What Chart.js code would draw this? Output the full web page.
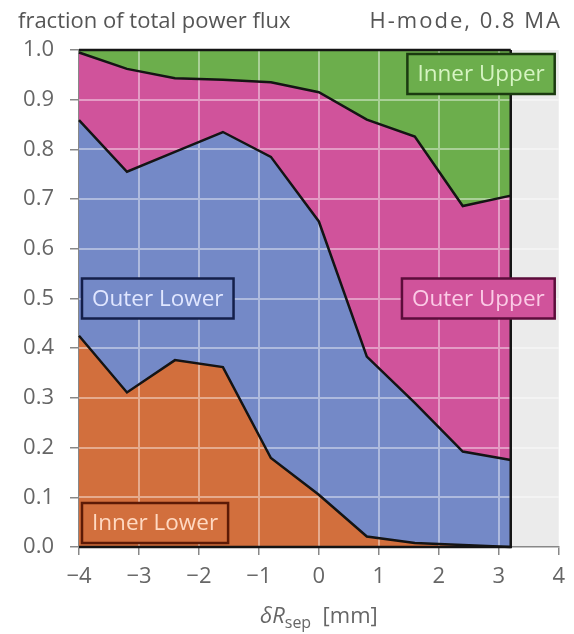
<!DOCTYPE html>
<html>
<head>
<meta charset="utf-8">
<script src="https://cdn.jsdelivr.net/npm/chart.js@4"></script>
<style>
  html, body { margin: 0; padding: 0; background: #fff; }
  #wrap { width: 574px; height: 634px; }
</style>
</head>
<body>
<div id="wrap"><canvas id="chart"></canvas></div>
<script>
// separatrix shift, mm
const shifts = [-4, -3.2, -2.4, -1.6, -0.8, 0, 0.8, 1.6, 2.4, 3.2];

// fraction of the total power flux landing on each target (stacked bottom to top)
const innerLower = [0.425, 0.311, 0.376, 0.362, 0.179, 0.105, 0.021, 0.008, 0.004, 0.000];
const outerLower = [0.434, 0.444, 0.419, 0.473, 0.606, 0.550, 0.362, 0.282, 0.188, 0.175];
const outerUpper = [0.136, 0.207, 0.148, 0.105, 0.150, 0.260, 0.477, 0.536, 0.494, 0.532];
const innerUpper = [0.005, 0.038, 0.057, 0.060, 0.065, 0.085, 0.140, 0.174, 0.314, 0.293];

const xTicks = [-4, -3, -2, -1, 0, 1, 2, 3, 4];
const yTicks = [0, 0.1, 0.2, 0.3, 0.4, 0.5, 0.6, 0.7, 0.8, 0.9, 1.0];

const FONT = "'Open Sans', 'DejaVu Sans', sans-serif";

const series = [
  {name: "Inner Lower", values: innerLower, fill: "#d26f3d", edge: "#5c1a06", ink: "#ffd9c2"},
  {name: "Outer Lower", values: outerLower, fill: "#7489c7", edge: "#141f4a", ink: "#e0e6ff"},
  {name: "Outer Upper", values: outerUpper, fill: "#d0539b", edge: "#5c0d3b", ink: "#fbcbe6"},
  {name: "Inner Upper", values: innerUpper, fill: "#6cae4c", edge: "#1b3a10", ink: "#d6f4c2"}
];

const datasets = series.map((s, i) => ({
  label: s.name,
  data: shifts.map((x, j) => ({x: x, y: s.values[j]})),
  fill: i === 0 ? "origin" : "-1",
  backgroundColor: s.fill,
  borderColor: "#141414",
  borderWidth: 2.5,
  pointRadius: 0,
  tension: 0,
  clip: 4
}));

// light gray panel behind everything
const panel = {
  id: "panel",
  beforeDraw(chart) {
    const {ctx, chartArea: a} = chart;
    ctx.save();
    ctx.fillStyle = "#fff";
    ctx.fillRect(0, 0, chart.width, chart.height);
    ctx.fillStyle = "#ebebeb";
    ctx.fillRect(a.left, a.top, a.right - a.left, a.bottom - a.top);
    ctx.restore();
  }
};

// white grid over the fills but under the boundary lines
const overGrid = {
  id: "overGrid",
  beforeDatasetsDraw(chart) {
    const {ctx, chartArea: a, scales} = chart;
    ctx.save();
    ctx.strokeStyle = "rgba(255,255,255,0.42)";
    ctx.lineWidth = 2;
    ctx.beginPath();
    xTicks.slice(1, -1).forEach(v => {
      const px = Math.round(scales.x.getPixelForValue(v));
      ctx.moveTo(px, a.top); ctx.lineTo(px, a.bottom);
    });
    yTicks.slice(1, -1).forEach(v => {
      const py = Math.round(scales.y.getPixelForValue(v));
      ctx.moveTo(a.left, py); ctx.lineTo(a.right, py);
    });
    ctx.stroke();
    ctx.restore();
  }
};

function drawTag(ctx, s, x, y, align) {
  ctx.font = "22.5px " + FONT;
  const w = ctx.measureText(s.name).width + 20;
  const h = 40;
  const left = align === "right" ? x - w : x;
  ctx.fillStyle = s.fill;
  ctx.fillRect(left, y - h / 2, w, h);
  ctx.strokeStyle = s.edge;
  ctx.lineWidth = 2.5;
  ctx.strokeRect(left, y - h / 2, w, h);
  ctx.fillStyle = s.ink;
  ctx.textAlign = "center";
  ctx.textBaseline = "middle";
  ctx.fillText(s.name, left + w / 2, y + 1);
}

const annotations = {
  id: "annotations",
  afterDraw(chart) {
    const {ctx, chartArea: a, scales} = chart;
    const x0 = scales.x.getPixelForValue(shifts[0]);
    const xEnd = scales.x.getPixelForValue(shifts[shifts.length - 1]);
    const y0 = scales.y.getPixelForValue(0);
    const y1 = scales.y.getPixelForValue(1);
    ctx.save();

    // outline closing the stack at the bottom and at the last shift
    ctx.strokeStyle = "#141414";
    ctx.lineWidth = 2.5;
    ctx.beginPath();
    ctx.moveTo(x0, y0);
    ctx.lineTo(xEnd, y0);
    ctx.lineTo(xEnd, y1);
    ctx.stroke();

    const mid = scales.y.getPixelForValue(0.5);
    drawTag(ctx, series[3], a.right - 4, a.top + 24, "right");
    drawTag(ctx, series[2], a.right - 4, mid, "right");
    drawTag(ctx, series[1], a.left + 3, mid, "left");
    drawTag(ctx, series[0], a.left + 3, a.bottom - 24, "left");

    // headings
    ctx.fillStyle = "#555";
    ctx.textBaseline = "alphabetic";
    ctx.font = "22px " + FONT;
    ctx.textAlign = "left";
    ctx.fillText("fraction of total power flux", 18, 28);
    ctx.textAlign = "right";
    ctx.letterSpacing = "2px";
    ctx.fillText("H-mode, 0.8 MA", 562, 28);
    ctx.letterSpacing = "0px";

    // axis title: δR_sep [mm]
    const parts = [
      {t: "\u03b4", f: "italic 22px " + FONT, dy: 0},
      {t: "R", f: "italic 22px " + FONT, dy: 0},
      {t: "sep", f: "16px " + FONT, dy: 5},
      {t: "  [mm]", f: "22px " + FONT, dy: 0}
    ];
    let total = 0;
    parts.forEach(p => { ctx.font = p.f; p.w = ctx.measureText(p.t).width; total += p.w; });
    let cx = scales.x.getPixelForValue(0) - total / 2;
    ctx.textAlign = "left";
    ctx.fillStyle = "#666";
    parts.forEach(p => {
      ctx.font = p.f;
      ctx.fillText(p.t, cx, 623 + p.dy);
      cx += p.w;
    });
    ctx.restore();
  }
};

new Chart(document.getElementById("chart"), {
  type: "line",
  data: {datasets: datasets},
  options: {
    responsive: true,
    maintainAspectRatio: false,
    animation: false,
    layout: {padding: {top: 50, right: 13, left: 0, bottom: 0}},
    plugins: {
      legend: {display: false},
      tooltip: {enabled: false},
      filler: {drawTime: "beforeDatasetsDraw"}
    },
    scales: {
      x: {
        type: "linear",
        min: -4,
        max: 4,
        afterFit(axis) { axis.height = 87; },
        afterBuildTicks(axis) { axis.ticks = xTicks.map(v => ({value: v})); },
        grid: {drawOnChartArea: false, drawTicks: true, tickLength: 8, tickColor: "#888", lineWidth: 1.5},
        border: {color: "#888", width: 1.5},
        ticks: {
          color: "#666",
          padding: 9,
          font: {family: FONT, size: 22},
          callback: v => v < 0 ? "\u2212" + Math.abs(v) : String(v)
        }
      },
      y: {
        stacked: true,
        min: 0,
        max: 1,
        afterFit(axis) { axis.width = 79; },
        afterBuildTicks(axis) { axis.ticks = yTicks.map(v => ({value: v})); },
        grid: {drawOnChartArea: false, drawTicks: true, tickLength: 9, tickColor: "#888", lineWidth: 1.5},
        border: {color: "#888", width: 1.5},
        ticks: {
          color: "#666",
          padding: 16,
          font: {family: FONT, size: 22},
          callback: v => v.toFixed(1)
        }
      }
    }
  },
  plugins: [panel, overGrid, annotations]
});
</script>
</body>
</html>
